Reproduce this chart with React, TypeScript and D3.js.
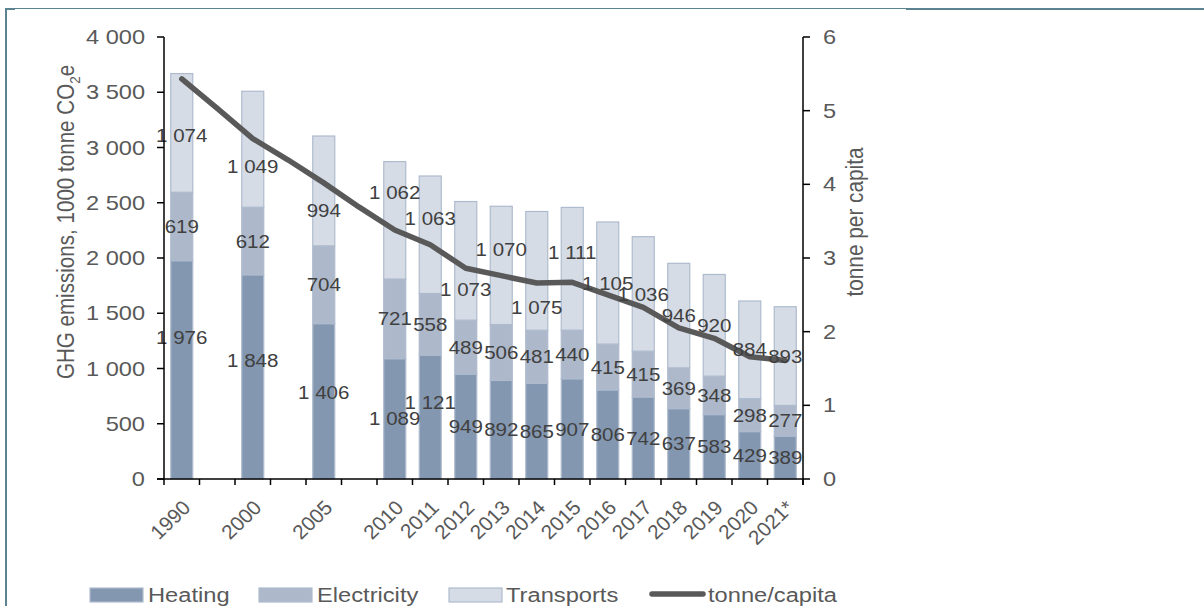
import React from "react";
import * as d3 from "d3";

const categories = ["1990", "", "2000", "", "2005", "", "2010", "2011", "2012", "2013", "2014", "2015", "2016", "2017", "2018", "2019", "2020", "2021*"];
const heating = [1976, null, 1848, null, 1406, null, 1089, 1121, 949, 892, 865, 907, 806, 742, 637, 583, 429, 389];
const electricity = [619, null, 612, null, 704, null, 721, 558, 489, 506, 481, 440, 415, 415, 369, 348, 298, 277];
const transports = [1074, null, 1049, null, 994, null, 1062, 1063, 1073, 1070, 1075, 1111, 1105, 1036, 946, 920, 884, 893];
const perCapita = [5.43, 5.03, 4.62, 4.33, 4.02, 3.69, 3.38, 3.18, 2.86, 2.76, 2.66, 2.67, 2.5, 2.33, 2.05, 1.91, 1.66, 1.61];
const leftTicks = [0, 500, 1000, 1500, 2000, 2500, 3000, 3500, 4000];
const rightTicks = [0, 1, 2, 3, 4, 5, 6];
const seriesNames = ["Heating", "Electricity", "Transports"];
const lineName = "tonne/capita";

// label placement nudges (px, vertical) as in the original layout
const heatingNudge = [-32, 0, -17, 0, -9, 0, 0, -15, 0, 0, 0, 0, 0, 0, 0, 0, 0, 0];
const electricityNudge = [0, 0, 0, 0, 0, 0, 0, 0, 0, 0, 0, 0, 0, 0, 0, 0, 0, 0];
const transportNudge = [2, 0, 17, 0, 19, 0, -28, -16, 29, -16, 36, -16, 0, 0, 0, 0, 0, 0];

const colors = ["#8497b0", "#adb9ca", "#d6dce6"];
const barStroke = "#aebbce";
const lineColor = "#595959";
const axisText = "#595959";
const labelText = "#404040";
const frameColor = "#5b8490";
const FONT = "'Liberation Sans', Arial, sans-serif";

const locale = d3.formatLocale({ decimal: ",", thousands: " ", grouping: [3], currency: ["", ""] });
const fmt = locale.format(",d");

function T({ x, y, sx = 1.15, rot = 0, anchor = "middle", size = 20, fill = axisText, dy = "0.35em", children }: any) {
  return (
    <g transform={`translate(${x},${y}) scale(${sx},1)${rot ? ` rotate(${rot})` : ""}`}>
      <text textAnchor={anchor} fontSize={size} fill={fill} dy={dy} fontFamily={FONT}>
        {children}
      </text>
    </g>
  );
}

export default function App() {
  const W = 1204, H = 606;
  const left = 164, right = 803, top = 37, bottom = 479;
  const slots = categories.map((_, i) => i);
  const x = d3.scaleBand<number>().domain(slots).range([left, right]).paddingInner(0.38).paddingOuter(0.19);
  const step = x.step();
  const cx = (i: number) => left + step * (i + 0.5);
  const y = d3.scaleLinear().domain([0, 4000]).range([bottom, top]);
  const y2 = d3.scaleLinear().domain([0, 6]).range([bottom, top]);

  const rows = categories.map((c, i) => ({ i, Heating: heating[i], Electricity: electricity[i], Transports: transports[i] }));
  const valid = rows.filter((r) => r.Heating != null);
  const stack = d3.stack<any>().keys(seriesNames)(valid);
  const nudges = [heatingNudge, electricityNudge, transportNudge];

  const line = d3
    .line<number>()
    .x((_, i) => cx(i))
    .y((d) => y2(d));

  return (
    <svg width={W} height={H} style={{ position: "absolute", left: 0, top: 0, background: "#fff" }}>
      {/* frame */}
      <line x1={6} y1={8} x2={6} y2={H} stroke={frameColor} strokeWidth={2} />
      <line x1={5} y1={8.5} x2={906} y2={8.5} stroke={frameColor} strokeWidth={1} />
      <line x1={5} y1={9} x2={15} y2={9} stroke={frameColor} strokeWidth={2} />
      <line x1={906} y1={9} x2={W} y2={9} stroke={frameColor} strokeWidth={2} />

      {/* bars */}
      {stack.map((s, si) =>
        s.map((d: any) => (
          <rect
            key={`${si}-${d.data.i}`}
            x={x(d.data.i)}
            y={y(d[1])}
            width={x.bandwidth()}
            height={y(d[0]) - y(d[1])}
            fill={colors[si]}
            stroke={barStroke}
            strokeWidth={1.2}
          />
        ))
      )}

      {/* line */}
      <path d={line(perCapita) || ""} fill="none" stroke={lineColor} strokeWidth={5.5} strokeLinejoin="round" strokeLinecap="round" />

      {/* data labels */}
      {stack.map((s, si) =>
        s.map((d: any) => {
          const v = d[1] - d[0];
          return (
            <T key={`l${si}-${d.data.i}`} x={cx(d.data.i)} y={y((d[0] + d[1]) / 2) + nudges[si][d.data.i]} size={19} sx={1.08} fill={labelText}>
              {fmt(v)}
            </T>
          );
        })
      )}

      {/* axes */}
      <line x1={left} y1={top} x2={left} y2={bottom} stroke="#000" strokeWidth={1.5} />
      <line x1={right} y1={top} x2={right} y2={bottom + 6} stroke="#000" strokeWidth={1.5} />
      <line x1={left - 7} y1={bottom} x2={right} y2={bottom} stroke="#000" strokeWidth={1.5} />
      {leftTicks.map((t) => (
        <g key={`lt${t}`}>
          <line x1={left - 7} x2={left} y1={y(t)} y2={y(t)} stroke="#000" strokeWidth={1.5} />
          <T x={145} y={y(t)} anchor="end" size={20} sx={1.18}>
            {fmt(t)}
          </T>
        </g>
      ))}
      {rightTicks.map((t) => (
        <g key={`rt${t}`}>
          <line x1={right} x2={right + 7} y1={y2(t)} y2={y2(t)} stroke="#000" strokeWidth={1.5} />
          <T x={823} y={y2(t)} anchor="start" size={20} sx={1.18}>
            {fmt(t)}
          </T>
        </g>
      ))}
      {d3.range(categories.length + 1).map((k) => (
        <line key={`xt${k}`} x1={left + k * step} x2={left + k * step} y1={bottom} y2={bottom + 6} stroke="#000" strokeWidth={1.5} />
      ))}
      {categories.map((c, i) =>
        c ? (
          <T key={`xl${i}`} x={cx(i) + 10} y={509} rot={-45} anchor="end" size={20} sx={1.04} dy="0">
            {c}
          </T>
        ) : null
      )}

      {/* axis titles */}
      <g transform={`translate(74,222) scale(1.15,1) rotate(-90)`}>
        <text textAnchor="middle" fontSize={20.6} fill={axisText} fontFamily={FONT}>
          GHG emissions, 1000 tonne CO
          <tspan dy={5} fontSize={13.5}>2</tspan>
          <tspan dy={-5}>e</tspan>
        </text>
      </g>
      <g transform={`translate(863,222) scale(1.15,1) rotate(-90)`}>
        <text textAnchor="middle" fontSize={20.8} fill={axisText} fontFamily={FONT}>
          tonne per capita
        </text>
      </g>

      {/* legend */}
      {[
        { name: seriesNames[0], sw: 90, tx: 148 },
        { name: seriesNames[1], sw: 259, tx: 317 },
        { name: seriesNames[2], sw: 449, tx: 506 },
      ].map((l, k) => (
        <g key={`lg${k}`}>
          <rect x={l.sw} y={588} width={53} height={14} fill={colors[k]} stroke={barStroke} strokeWidth={1.2} />
          <T x={l.tx} y={602} anchor="start" size={20.6} sx={1.15} dy="0">
            {l.name}
          </T>
        </g>
      ))}
      <line x1={652} x2={703} y1={594} y2={594} stroke={lineColor} strokeWidth={5.5} strokeLinecap="round" />
      <T x={708} y={602} anchor="start" size={20.6} sx={1.15} dy="0">
        {lineName}
      </T>
    </svg>
  );
}
